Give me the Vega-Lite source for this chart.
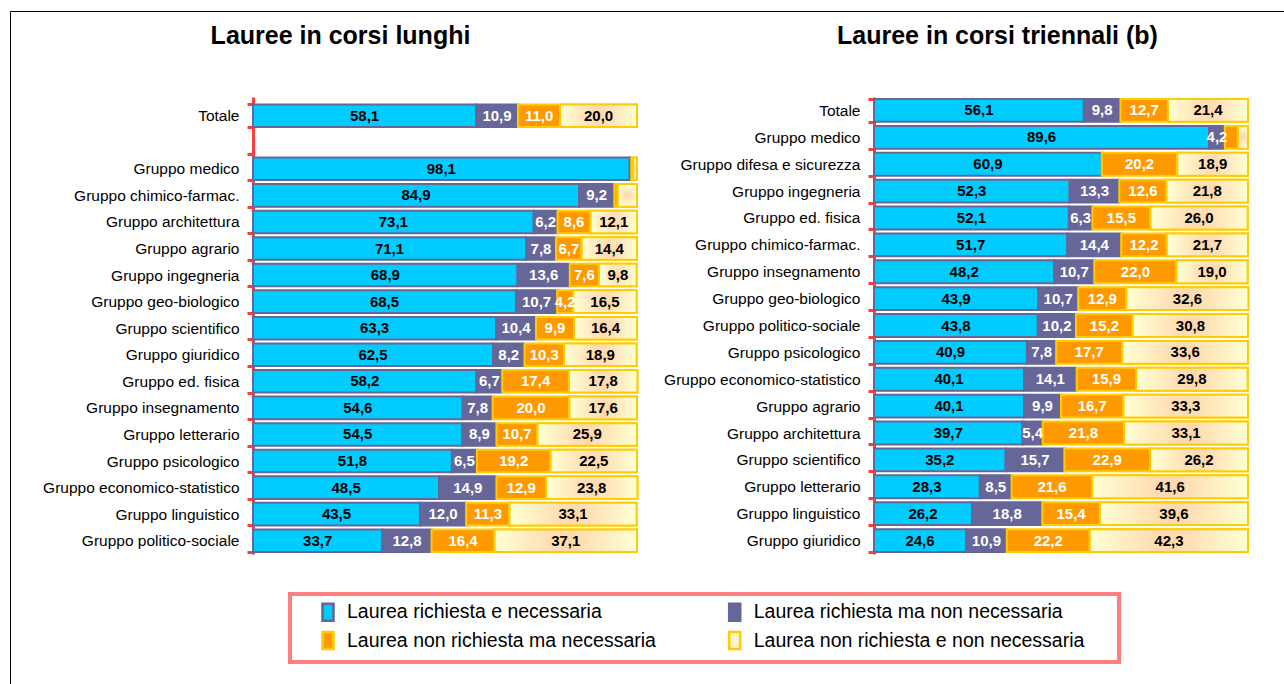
{
  "$schema": "https://vega.github.io/schema/vega-lite/v6.json",
  "padding": {"left": 9, "top": 10, "right": 0, "bottom": 0},
  "background": "white",
  "config": {
    "locale": {"number": {"decimal": ",", "thousands": ".", "grouping": [3], "currency": ["€", ""]}},
    "view": {"stroke": null},
    "font": "Liberation Sans, Arial, sans-serif",
    "concat": {"spacing": 24},
    "title": {"font": "Liberation Sans, Arial, sans-serif", "fontSize": 25, "fontWeight": "bold", "color": "black", "anchor": "middle", "frame": "bounds", "baseline": "alphabetic"},
    "axisY": {"title": null, "domainColor": "#FF3B3B", "domainWidth": 3, "tickColor": "#FF3B3B", "tickWidth": 3, "tickSize": 6, "tickBand": "extent", "labelFontSize": 15.5, "labelColor": "black", "labelPadding": 8, "labelLimit": 400, "labelFont": "Liberation Sans, Arial, sans-serif", "grid": false}
  },
  "datasets": {
    "lunghi": [
      {"g": "Totale", "c": "Laurea richiesta e necessaria", "v": 58.1},
      {"g": "Totale", "c": "Laurea richiesta ma non necessaria", "v": 10.9},
      {"g": "Totale", "c": "Laurea non richiesta ma necessaria", "v": 11.0},
      {"g": "Totale", "c": "Laurea non richiesta e non necessaria", "v": 20.0},
      {"g": "Gruppo medico", "c": "Laurea richiesta e necessaria", "v": 98.1},
      {"g": "Gruppo medico", "c": "Laurea richiesta ma non necessaria", "v": 0.4},
      {"g": "Gruppo medico", "c": "Laurea non richiesta ma necessaria", "v": 0.5},
      {"g": "Gruppo medico", "c": "Laurea non richiesta e non necessaria", "v": 1.0},
      {"g": "Gruppo chimico-farmac.", "c": "Laurea richiesta e necessaria", "v": 84.9},
      {"g": "Gruppo chimico-farmac.", "c": "Laurea richiesta ma non necessaria", "v": 9.2},
      {"g": "Gruppo chimico-farmac.", "c": "Laurea non richiesta ma necessaria", "v": 0.9},
      {"g": "Gruppo chimico-farmac.", "c": "Laurea non richiesta e non necessaria", "v": 5.0},
      {"g": "Gruppo architettura", "c": "Laurea richiesta e necessaria", "v": 73.1},
      {"g": "Gruppo architettura", "c": "Laurea richiesta ma non necessaria", "v": 6.2},
      {"g": "Gruppo architettura", "c": "Laurea non richiesta ma necessaria", "v": 8.6},
      {"g": "Gruppo architettura", "c": "Laurea non richiesta e non necessaria", "v": 12.1},
      {"g": "Gruppo agrario", "c": "Laurea richiesta e necessaria", "v": 71.1},
      {"g": "Gruppo agrario", "c": "Laurea richiesta ma non necessaria", "v": 7.8},
      {"g": "Gruppo agrario", "c": "Laurea non richiesta ma necessaria", "v": 6.7},
      {"g": "Gruppo agrario", "c": "Laurea non richiesta e non necessaria", "v": 14.4},
      {"g": "Gruppo ingegneria", "c": "Laurea richiesta e necessaria", "v": 68.9},
      {"g": "Gruppo ingegneria", "c": "Laurea richiesta ma non necessaria", "v": 13.6},
      {"g": "Gruppo ingegneria", "c": "Laurea non richiesta ma necessaria", "v": 7.6},
      {"g": "Gruppo ingegneria", "c": "Laurea non richiesta e non necessaria", "v": 9.8},
      {"g": "Gruppo geo-biologico", "c": "Laurea richiesta e necessaria", "v": 68.5},
      {"g": "Gruppo geo-biologico", "c": "Laurea richiesta ma non necessaria", "v": 10.7},
      {"g": "Gruppo geo-biologico", "c": "Laurea non richiesta ma necessaria", "v": 4.2},
      {"g": "Gruppo geo-biologico", "c": "Laurea non richiesta e non necessaria", "v": 16.5},
      {"g": "Gruppo scientifico", "c": "Laurea richiesta e necessaria", "v": 63.3},
      {"g": "Gruppo scientifico", "c": "Laurea richiesta ma non necessaria", "v": 10.4},
      {"g": "Gruppo scientifico", "c": "Laurea non richiesta ma necessaria", "v": 9.9},
      {"g": "Gruppo scientifico", "c": "Laurea non richiesta e non necessaria", "v": 16.4},
      {"g": "Gruppo giuridico", "c": "Laurea richiesta e necessaria", "v": 62.5},
      {"g": "Gruppo giuridico", "c": "Laurea richiesta ma non necessaria", "v": 8.2},
      {"g": "Gruppo giuridico", "c": "Laurea non richiesta ma necessaria", "v": 10.3},
      {"g": "Gruppo giuridico", "c": "Laurea non richiesta e non necessaria", "v": 18.9},
      {"g": "Gruppo ed. fisica", "c": "Laurea richiesta e necessaria", "v": 58.2},
      {"g": "Gruppo ed. fisica", "c": "Laurea richiesta ma non necessaria", "v": 6.7},
      {"g": "Gruppo ed. fisica", "c": "Laurea non richiesta ma necessaria", "v": 17.4},
      {"g": "Gruppo ed. fisica", "c": "Laurea non richiesta e non necessaria", "v": 17.8},
      {"g": "Gruppo insegnamento", "c": "Laurea richiesta e necessaria", "v": 54.6},
      {"g": "Gruppo insegnamento", "c": "Laurea richiesta ma non necessaria", "v": 7.8},
      {"g": "Gruppo insegnamento", "c": "Laurea non richiesta ma necessaria", "v": 20.0},
      {"g": "Gruppo insegnamento", "c": "Laurea non richiesta e non necessaria", "v": 17.6},
      {"g": "Gruppo letterario", "c": "Laurea richiesta e necessaria", "v": 54.5},
      {"g": "Gruppo letterario", "c": "Laurea richiesta ma non necessaria", "v": 8.9},
      {"g": "Gruppo letterario", "c": "Laurea non richiesta ma necessaria", "v": 10.7},
      {"g": "Gruppo letterario", "c": "Laurea non richiesta e non necessaria", "v": 25.9},
      {"g": "Gruppo psicologico", "c": "Laurea richiesta e necessaria", "v": 51.8},
      {"g": "Gruppo psicologico", "c": "Laurea richiesta ma non necessaria", "v": 6.5},
      {"g": "Gruppo psicologico", "c": "Laurea non richiesta ma necessaria", "v": 19.2},
      {"g": "Gruppo psicologico", "c": "Laurea non richiesta e non necessaria", "v": 22.5},
      {"g": "Gruppo economico-statistico", "c": "Laurea richiesta e necessaria", "v": 48.5},
      {"g": "Gruppo economico-statistico", "c": "Laurea richiesta ma non necessaria", "v": 14.9},
      {"g": "Gruppo economico-statistico", "c": "Laurea non richiesta ma necessaria", "v": 12.9},
      {"g": "Gruppo economico-statistico", "c": "Laurea non richiesta e non necessaria", "v": 23.8},
      {"g": "Gruppo linguistico", "c": "Laurea richiesta e necessaria", "v": 43.5},
      {"g": "Gruppo linguistico", "c": "Laurea richiesta ma non necessaria", "v": 12.0},
      {"g": "Gruppo linguistico", "c": "Laurea non richiesta ma necessaria", "v": 11.3},
      {"g": "Gruppo linguistico", "c": "Laurea non richiesta e non necessaria", "v": 33.1},
      {"g": "Gruppo politico-sociale", "c": "Laurea richiesta e necessaria", "v": 33.7},
      {"g": "Gruppo politico-sociale", "c": "Laurea richiesta ma non necessaria", "v": 12.8},
      {"g": "Gruppo politico-sociale", "c": "Laurea non richiesta ma necessaria", "v": 16.4},
      {"g": "Gruppo politico-sociale", "c": "Laurea non richiesta e non necessaria", "v": 37.1}
    ],
    "triennali": [
      {"g": "Totale", "c": "Laurea richiesta e necessaria", "v": 56.1},
      {"g": "Totale", "c": "Laurea richiesta ma non necessaria", "v": 9.8},
      {"g": "Totale", "c": "Laurea non richiesta ma necessaria", "v": 12.7},
      {"g": "Totale", "c": "Laurea non richiesta e non necessaria", "v": 21.4},
      {"g": "Gruppo medico", "c": "Laurea richiesta e necessaria", "v": 89.6},
      {"g": "Gruppo medico", "c": "Laurea richiesta ma non necessaria", "v": 4.2},
      {"g": "Gruppo medico", "c": "Laurea non richiesta ma necessaria", "v": 3.5},
      {"g": "Gruppo medico", "c": "Laurea non richiesta e non necessaria", "v": 2.7},
      {"g": "Gruppo difesa e sicurezza", "c": "Laurea richiesta e necessaria", "v": 60.9},
      {"g": "Gruppo difesa e sicurezza", "c": "Laurea non richiesta ma necessaria", "v": 20.2},
      {"g": "Gruppo difesa e sicurezza", "c": "Laurea non richiesta e non necessaria", "v": 18.9},
      {"g": "Gruppo ingegneria", "c": "Laurea richiesta e necessaria", "v": 52.3},
      {"g": "Gruppo ingegneria", "c": "Laurea richiesta ma non necessaria", "v": 13.3},
      {"g": "Gruppo ingegneria", "c": "Laurea non richiesta ma necessaria", "v": 12.6},
      {"g": "Gruppo ingegneria", "c": "Laurea non richiesta e non necessaria", "v": 21.8},
      {"g": "Gruppo ed. fisica", "c": "Laurea richiesta e necessaria", "v": 52.1},
      {"g": "Gruppo ed. fisica", "c": "Laurea richiesta ma non necessaria", "v": 6.3},
      {"g": "Gruppo ed. fisica", "c": "Laurea non richiesta ma necessaria", "v": 15.5},
      {"g": "Gruppo ed. fisica", "c": "Laurea non richiesta e non necessaria", "v": 26.0},
      {"g": "Gruppo chimico-farmac.", "c": "Laurea richiesta e necessaria", "v": 51.7},
      {"g": "Gruppo chimico-farmac.", "c": "Laurea richiesta ma non necessaria", "v": 14.4},
      {"g": "Gruppo chimico-farmac.", "c": "Laurea non richiesta ma necessaria", "v": 12.2},
      {"g": "Gruppo chimico-farmac.", "c": "Laurea non richiesta e non necessaria", "v": 21.7},
      {"g": "Gruppo insegnamento", "c": "Laurea richiesta e necessaria", "v": 48.2},
      {"g": "Gruppo insegnamento", "c": "Laurea richiesta ma non necessaria", "v": 10.7},
      {"g": "Gruppo insegnamento", "c": "Laurea non richiesta ma necessaria", "v": 22.0},
      {"g": "Gruppo insegnamento", "c": "Laurea non richiesta e non necessaria", "v": 19.0},
      {"g": "Gruppo geo-biologico", "c": "Laurea richiesta e necessaria", "v": 43.9},
      {"g": "Gruppo geo-biologico", "c": "Laurea richiesta ma non necessaria", "v": 10.7},
      {"g": "Gruppo geo-biologico", "c": "Laurea non richiesta ma necessaria", "v": 12.9},
      {"g": "Gruppo geo-biologico", "c": "Laurea non richiesta e non necessaria", "v": 32.6},
      {"g": "Gruppo politico-sociale", "c": "Laurea richiesta e necessaria", "v": 43.8},
      {"g": "Gruppo politico-sociale", "c": "Laurea richiesta ma non necessaria", "v": 10.2},
      {"g": "Gruppo politico-sociale", "c": "Laurea non richiesta ma necessaria", "v": 15.2},
      {"g": "Gruppo politico-sociale", "c": "Laurea non richiesta e non necessaria", "v": 30.8},
      {"g": "Gruppo psicologico", "c": "Laurea richiesta e necessaria", "v": 40.9},
      {"g": "Gruppo psicologico", "c": "Laurea richiesta ma non necessaria", "v": 7.8},
      {"g": "Gruppo psicologico", "c": "Laurea non richiesta ma necessaria", "v": 17.7},
      {"g": "Gruppo psicologico", "c": "Laurea non richiesta e non necessaria", "v": 33.6},
      {"g": "Gruppo economico-statistico", "c": "Laurea richiesta e necessaria", "v": 40.1},
      {"g": "Gruppo economico-statistico", "c": "Laurea richiesta ma non necessaria", "v": 14.1},
      {"g": "Gruppo economico-statistico", "c": "Laurea non richiesta ma necessaria", "v": 15.9},
      {"g": "Gruppo economico-statistico", "c": "Laurea non richiesta e non necessaria", "v": 29.8},
      {"g": "Gruppo agrario", "c": "Laurea richiesta e necessaria", "v": 40.1},
      {"g": "Gruppo agrario", "c": "Laurea richiesta ma non necessaria", "v": 9.9},
      {"g": "Gruppo agrario", "c": "Laurea non richiesta ma necessaria", "v": 16.7},
      {"g": "Gruppo agrario", "c": "Laurea non richiesta e non necessaria", "v": 33.3},
      {"g": "Gruppo architettura", "c": "Laurea richiesta e necessaria", "v": 39.7},
      {"g": "Gruppo architettura", "c": "Laurea richiesta ma non necessaria", "v": 5.4},
      {"g": "Gruppo architettura", "c": "Laurea non richiesta ma necessaria", "v": 21.8},
      {"g": "Gruppo architettura", "c": "Laurea non richiesta e non necessaria", "v": 33.1},
      {"g": "Gruppo scientifico", "c": "Laurea richiesta e necessaria", "v": 35.2},
      {"g": "Gruppo scientifico", "c": "Laurea richiesta ma non necessaria", "v": 15.7},
      {"g": "Gruppo scientifico", "c": "Laurea non richiesta ma necessaria", "v": 22.9},
      {"g": "Gruppo scientifico", "c": "Laurea non richiesta e non necessaria", "v": 26.2},
      {"g": "Gruppo letterario", "c": "Laurea richiesta e necessaria", "v": 28.3},
      {"g": "Gruppo letterario", "c": "Laurea richiesta ma non necessaria", "v": 8.5},
      {"g": "Gruppo letterario", "c": "Laurea non richiesta ma necessaria", "v": 21.6},
      {"g": "Gruppo letterario", "c": "Laurea non richiesta e non necessaria", "v": 41.6},
      {"g": "Gruppo linguistico", "c": "Laurea richiesta e necessaria", "v": 26.2},
      {"g": "Gruppo linguistico", "c": "Laurea richiesta ma non necessaria", "v": 18.8},
      {"g": "Gruppo linguistico", "c": "Laurea non richiesta ma necessaria", "v": 15.4},
      {"g": "Gruppo linguistico", "c": "Laurea non richiesta e non necessaria", "v": 39.6},
      {"g": "Gruppo giuridico", "c": "Laurea richiesta e necessaria", "v": 24.6},
      {"g": "Gruppo giuridico", "c": "Laurea richiesta ma non necessaria", "v": 10.9},
      {"g": "Gruppo giuridico", "c": "Laurea non richiesta ma necessaria", "v": 22.2},
      {"g": "Gruppo giuridico", "c": "Laurea non richiesta e non necessaria", "v": 42.3}
    ]
  },
  "hconcat": [
    {
      "title": {"text": "Lauree in corsi lunghi", "offset": 41.5},
      "width": 384,
      "height": 457,
      "data": {"name": "lunghi"},
      "transform": [{"stack": "v", "groupby": ["g"], "as": ["x0", "x1"]}],
      "encoding": {
        "y": {"field": "g", "type": "nominal", "scale": {"domain": ["Totale", "", "Gruppo medico", "Gruppo chimico-farmac.", "Gruppo architettura", "Gruppo agrario", "Gruppo ingegneria", "Gruppo geo-biologico", "Gruppo scientifico", "Gruppo giuridico", "Gruppo ed. fisica", "Gruppo insegnamento", "Gruppo letterario", "Gruppo psicologico", "Gruppo economico-statistico", "Gruppo linguistico", "Gruppo politico-sociale"], "paddingInner": 0.15, "paddingOuter": 0.1766, "align": 0.788}}
      },
      "layer": [
        {
          "mark": {"type": "bar", "strokeWidth": 2},
          "encoding": {
            "x": {"field": "x0", "type": "quantitative", "scale": {"domain": [0, 100], "nice": false, "zero": true}, "axis": null},
            "x2": {"field": "x1"},
            "fill": {"field": "c", "type": "nominal", "scale": {"domain": ["Laurea richiesta e necessaria", "Laurea richiesta ma non necessaria", "Laurea non richiesta ma necessaria", "Laurea non richiesta e non necessaria"], "range": ["#00CCFF", "#666699", "#FF9900", "#FFF3C8"]},
              "legend": {"orient": "none", "legendX": 37, "legendY": 497, "direction": "horizontal", "columns": 2, "title": "M", "titleOpacity": 0, "titleOrient": "left", "titlePadding": 11, "titleFontSize": 10, "padding": 8, "columnPadding": 41.7, "rowPadding": 0.5, "symbolType": "M-0.65,-1H0.65V1H-0.65Z", "symbolSize": 289, "symbolStrokeWidth": 2.5, "labelFontSize": 19.5, "labelLimit": 600, "labelOffset": 9, "labelColor": "black", "strokeColor": "#FF7F7F", "fillColor": "white", "encode": {"legend": {"update": {"strokeWidth": {"value": 4}}}, "labels": {"update": {"text": {"signal": "datum.label + '  \u2800'"}}}}}},
            "stroke": {"field": "c", "type": "nominal", "scale": {"domain": ["Laurea richiesta e necessaria", "Laurea richiesta ma non necessaria", "Laurea non richiesta ma necessaria", "Laurea non richiesta e non necessaria"], "range": ["#666699", "#666699", "#FFCC00", "#FFCC00"]},
              "legend": {"orient": "none", "legendX": 37, "legendY": 497, "direction": "horizontal", "columns": 2, "title": "M", "titleOpacity": 0, "titleOrient": "left", "titlePadding": 11, "titleFontSize": 10, "padding": 8, "columnPadding": 41.7, "rowPadding": 0.5, "symbolType": "M-0.65,-1H0.65V1H-0.65Z", "symbolSize": 289, "symbolStrokeWidth": 2.5, "labelFontSize": 19.5, "labelLimit": 600, "labelOffset": 9, "labelColor": "black", "strokeColor": "#FF7F7F", "fillColor": "white", "encode": {"legend": {"update": {"strokeWidth": {"value": 4}}}, "labels": {"update": {"text": {"signal": "datum.label + '  \u2800'"}}}}}}
          }
        },
        {
          "transform": [{"filter": "datum.c == 'Laurea non richiesta e non necessaria'"}],
          "mark": {"type": "bar", "strokeWidth": 2, "stroke": "#FFCC00", "fill": {"gradient": "radial", "x1": 0.5, "y1": 0.5, "r1": 0, "x2": 0.5, "y2": 0.5, "r2": 0.5, "stops": [{"offset": 0, "color": "#FFD5AA"}, {"offset": 1, "color": "#FFFFD4"}]}},
          "encoding": {
            "x": {"field": "x0", "type": "quantitative", "scale": {"domain": [0, 100], "nice": false}, "axis": null},
            "x2": {"field": "x1"},
            "strokeDash": {"datum": "cornice", "type": "nominal", "scale": {"range": [[1, 0]]},
              "legend": {"orient": "none", "legendX": -243, "legendY": -86, "title": null, "padding": 340, "symbolSize": 360000, "symbolOpacity": 0, "symbolStrokeWidth": 0, "labelOffset": 0, "labelFontSize": 1, "labelOpacity": 0, "strokeColor": "black", "encode": {"legend": {"update": {"strokeWidth": {"value": 2}}}, "labels": {"update": {"text": {"value": ""}}}}}}
          }
        },
        {
          "transform": [
            {"filter": "datum.v >= 4 && !(datum.g == 'Gruppo chimico-farmac.' && datum.c == 'Laurea non richiesta e non necessaria')"},
            {"fold": ["x0", "x1"], "as": ["e", "p"]},
            {"aggregate": [{"op": "mean", "field": "p", "as": "pos"}], "groupby": ["g", "c", "v"]}
          ],
          "mark": {"type": "text", "fontWeight": "bold", "fontSize": 15, "align": "center", "baseline": "middle"},
          "encoding": {
            "x": {"field": "pos", "type": "quantitative", "scale": {"domain": [0, 100], "nice": false}, "axis": null},
            "text": {"field": "v", "type": "quantitative", "format": ".1f"},
            "color": {"condition": {"test": "datum.c == 'Laurea richiesta ma non necessaria' || datum.c == 'Laurea non richiesta ma necessaria'", "value": "white"}, "value": "black"}
          }
        }
      ]
    },
    {
      "title": {"text": "Lauree in corsi triennali (b)", "offset": 41.5, "dx": 41},
      "width": 374,
      "height": 457,
      "data": {"name": "triennali"},
      "transform": [{"stack": "v", "groupby": ["g"], "as": ["x0", "x1"]}],
      "encoding": {
        "y": {"field": "g", "type": "nominal", "scale": {"domain": ["Totale", "Gruppo medico", "Gruppo difesa e sicurezza", "Gruppo ingegneria", "Gruppo ed. fisica", "Gruppo chimico-farmac.", "Gruppo insegnamento", "Gruppo geo-biologico", "Gruppo politico-sociale", "Gruppo psicologico", "Gruppo economico-statistico", "Gruppo agrario", "Gruppo architettura", "Gruppo scientifico", "Gruppo letterario", "Gruppo linguistico", "Gruppo giuridico"], "paddingInner": 0.15, "paddingOuter": 0.075}}
      },
      "layer": [
        {
          "mark": {"type": "bar", "strokeWidth": 2},
          "encoding": {
            "x": {"field": "x0", "type": "quantitative", "scale": {"domain": [0, 100], "nice": false, "zero": true}, "axis": null},
            "x2": {"field": "x1"},
            "fill": {"field": "c", "type": "nominal"},
            "stroke": {"field": "c", "type": "nominal"}
          }
        },
        {
          "transform": [{"filter": "datum.c == 'Laurea non richiesta e non necessaria'"}],
          "mark": {"type": "bar", "strokeWidth": 2, "stroke": "#FFCC00", "fill": {"gradient": "radial", "x1": 0.5, "y1": 0.5, "r1": 0, "x2": 0.5, "y2": 0.5, "r2": 0.5, "stops": [{"offset": 0, "color": "#FFD5AA"}, {"offset": 1, "color": "#FFFFD4"}]}},
          "encoding": {
            "x": {"field": "x0", "type": "quantitative", "scale": {"domain": [0, 100], "nice": false}, "axis": null},
            "x2": {"field": "x1"}
          }
        },
        {
          "transform": [
            {"filter": "datum.v >= 4"},
            {"fold": ["x0", "x1"], "as": ["e", "p"]},
            {"aggregate": [{"op": "mean", "field": "p", "as": "pos"}], "groupby": ["g", "c", "v"]}
          ],
          "mark": {"type": "text", "fontWeight": "bold", "fontSize": 15, "align": "center", "baseline": "middle"},
          "encoding": {
            "x": {"field": "pos", "type": "quantitative", "scale": {"domain": [0, 100], "nice": false}, "axis": null},
            "text": {"field": "v", "type": "quantitative", "format": ".1f"},
            "color": {"condition": {"test": "datum.c == 'Laurea richiesta ma non necessaria' || datum.c == 'Laurea non richiesta ma necessaria'", "value": "white"}, "value": "black"}
          }
        }
      ]
    }
  ]
}
